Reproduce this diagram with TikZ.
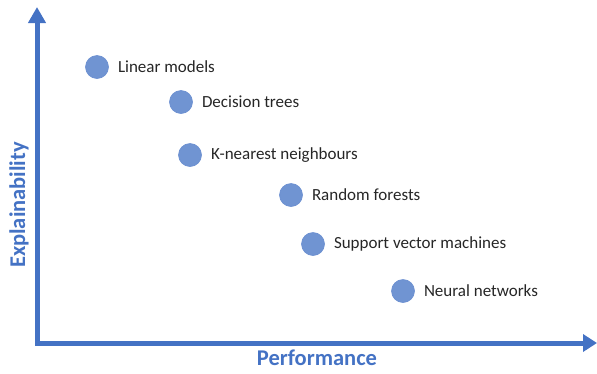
\documentclass[tikz,border=0pt]{standalone}
\usepackage{fontspec}
\setmainfont{Carlito}
\usepackage{tikz}
\usetikzlibrary{arrows.meta,positioning}
\definecolor{axisblue}{RGB}{68, 114, 196}
\definecolor{dotblue}{RGB}{112, 148, 210}
\definecolor{labelgray}{RGB}{38, 38, 38}
\tikzstyle{model}=[circle, draw=axisblue!80, line width=0.6pt, fill=dotblue, minimum size=23pt, inner sep=0pt]
\tikzstyle{modelname}=[text=labelgray, font=\fontsize{17}{20}\selectfont, inner sep=0pt]
\tikzstyle{axis}=[line width=5pt, draw=axisblue]
\tikzstyle{axisname}=[text=axisblue, font=\fontsize{22.5}{26}\selectfont\bfseries]

\begin{document}
\begin{tikzpicture}[x=1pt, y=-1pt]
      %
      \path[use as bounding box] (0,0) rectangle (597,373);
      %
      % axes
      %
      \coordinate (origin) at (37,343);
      \coordinate (ytop) at (37,7);
      \coordinate (xend) at (597,343);
      \draw[axis, line join=miter,
        {Triangle[length=16pt, width=17pt, fill=axisblue]}-{Triangle[length=14pt, width=17pt, fill=axisblue]}]
        (ytop) -- (origin) -- (xend);
      \node[axisname, rotate=90] (explain) at (19,205) {Explainability};
      \node[axisname] (perf) at (317,358) {Performance};
      %
      % models
      %
      \node[model] (linear) at (97,67) {};
      \node[modelname, right=9pt of linear] (linearlbl) {Linear models};
      %
      \node[model] (tree) at (181,102) {};
      \node[modelname, right=9pt of tree] (treelbl) {Decision trees};
      %
      \node[model] (knn) at (190,155) {};
      \node[modelname, right=9pt of knn] (knnlbl) {K-nearest neighbours};
      %
      \node[model] (forest) at (291,195) {};
      \node[modelname, right=9pt of forest] (forestlbl) {Random forests};
      %
      \node[model] (svm) at (313,244) {};
      \node[modelname, right=9pt of svm] (svmlbl) {Support vector machines};
      %
      \node[model] (neural) at (403,291) {};
      \node[modelname, right=9pt of neural] (neurallbl) {Neural networks};
      %
\end{tikzpicture}
\end{document}
